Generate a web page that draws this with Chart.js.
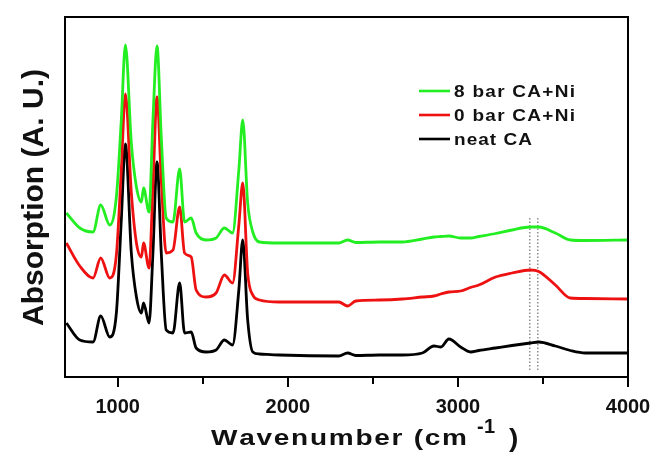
<!DOCTYPE html>
<html>
<head>
<meta charset="utf-8">
<script src="https://cdn.jsdelivr.net/npm/chart.js@4.4.1/dist/chart.umd.min.js"></script>
<style>
  html, body { margin: 0; padding: 0; background: #ffffff; }
  #wrap { width: 651px; height: 454px; position: relative; }
</style>
</head>
<body>
<div id="wrap"><canvas id="c" width="651" height="454"></canvas></div>
<script>
// ---- data ----
const wavenumber = [698, 777, 855, 900, 953, 992, 1021, 1045, 1080, 1110, 1139, 1152, 1184, 1207, 1231, 1256, 1285, 1325, 1364, 1393, 1432, 1461, 1520, 1578, 1627, 1675, 1712, 1735, 1764, 1794, 1833, 1950, 2300, 2351, 2400, 2537, 2673, 2791, 2859, 2900, 2947, 3016, 3074, 3123, 3221, 3318, 3426, 3475, 3573, 3661, 3749, 4000];
const neatCA = [54, 37, 35, 61, 40, 64, 157, 233, 124, 80, 64, 74, 54, 124, 215, 124, 47, 44, 94, 44, 45, 29, 25, 27, 37, 32, 87, 137, 57, 25, 23, 22, 21, 24, 21.5, 22, 22, 24, 31, 30, 38, 30, 25, 26.5, 29, 31.5, 34, 35, 31, 26.5, 24, 24];
const bar0CaNi = [134, 111, 99, 119, 99, 122, 207, 283, 184, 134, 120, 134, 109, 190, 280, 197, 124, 127, 170, 124, 120, 87, 80, 84, 102, 94, 152, 194, 104, 82, 77, 75, 75, 71, 76, 77, 78, 80, 81, 83, 85, 86, 89.5, 92, 100, 104, 107, 105.5, 92, 79, 78.5, 78];
const bar8CaNi = [164, 149, 145, 172, 152, 180, 257, 332, 234, 190, 175, 189, 165, 257, 331, 240, 159, 155, 208, 155, 159, 144, 137, 139, 149, 144, 207, 257, 174, 145, 135, 134, 134, 137, 134.5, 135, 135, 138, 140, 140.5, 141, 139, 139, 140.5, 143.5, 147, 150, 150, 144, 137, 136.5, 137];
const seriesLabels = ['8 bar CA+Ni', '0 bar CA+Ni', 'neat CA'];
const markerWn = [3423, 3470];
const markerSpan = [7, 160];
const xTickValues = [1000, 1500, 2000, 2500, 3000, 3500, 4000];
const xTickLabels = ['1000', '', '2000', '', '3000', '', '4000'];
const xRange = [690, 4000];
const yRange = [0, 360];

const toPoints = (ys) => wavenumber.map((x, i) => ({ x: x, y: ys[i] }));

function spacedWidth(ctx, text, sp) {
  let w = 0;
  for (const ch of text) w += ctx.measureText(ch).width + sp;
  return w - sp;
}
function drawSpaced(ctx, text, x, y, sp) {
  for (const ch of text) {
    ctx.fillText(ch, x, y);
    x += ctx.measureText(ch).width + sp;
  }
  return x - sp;
}
function fitSpacing(ctx, text, target) {
  const n = [...text].length;
  const w = spacedWidth(ctx, text, 0);
  return n > 1 ? (target - w) / (n - 1) : 0;
}
// draw text with its baseline-left at (x,y), squeezed vertically by k, fitted to width w
function drawSqueezed(ctx, text, x, y, font, k, w) {
  ctx.save();
  ctx.translate(x, y);
  ctx.scale(1, k);
  ctx.font = font;
  drawSpaced(ctx, text, 0, 0, fitSpacing(ctx, text, w));
  ctx.restore();
}

const FONT = '"Liberation Sans", Arial, sans-serif';

const decor = {
  id: 'decor',
  afterDatasetsDraw(chart) {
    const ctx = chart.ctx;
    const a = chart.chartArea;
    const xs = chart.scales.x;
    ctx.save();
    // frame
    ctx.strokeStyle = '#000';
    ctx.lineWidth = 2;
    ctx.strokeRect(a.left, a.top, a.right - a.left, a.bottom - a.top);
    // ticks on x axis
    xTickValues.forEach((v, i) => {
      const px = Math.round(xs.getPixelForValue(v));
      const len = xTickLabels[i] ? 10 : 7;
      ctx.beginPath();
      ctx.moveTo(px, a.bottom);
      ctx.lineTo(px, a.bottom + len);
      ctx.stroke();
    });
    // legend
    const legY = [91, 115, 139];
    const legTextW = [121, 121, 78];
    ctx.textBaseline = 'alphabetic';
    for (let i = 0; i < 3; i++) {
      const ds = chart.data.datasets[i];
      ctx.strokeStyle = ds.borderColor;
      ctx.lineWidth = 2.6;
      ctx.beginPath();
      ctx.moveTo(419, legY[i]);
      ctx.lineTo(450, legY[i]);
      ctx.stroke();
      ctx.fillStyle = '#111';
      drawSqueezed(ctx, ds.label, 454, legY[i] + 6, 'bold 19px ' + FONT, 0.86, legTextW[i]);
    }
    // x title
    ctx.fillStyle = '#111';
    drawSqueezed(ctx, 'Wavenumber (cm', 211, 445, 'bold 28px ' + FONT, 0.78, 256);
    ctx.font = 'bold 20px ' + FONT;
    drawSpaced(ctx, '-1', 477, 433, fitSpacing(ctx, '-1', 18));
    drawSqueezed(ctx, ')', 509, 447, 'bold 28px ' + FONT, 0.92, 10);
    // y title
    ctx.save();
    ctx.translate(43, 326);
    ctx.rotate(-Math.PI / 2);
    ctx.font = 'bold 30px ' + FONT;
    const yt = 'Absorption (A. U.)';
    drawSpaced(ctx, yt, 0, 0, fitSpacing(ctx, yt, 257));
    ctx.restore();
    ctx.restore();
  }
};

const lineStyle = (color) => ({
  borderColor: color, backgroundColor: color, borderWidth: 2.8,
  pointRadius: 0, fill: false, cubicInterpolationMode: 'monotone'
});

new Chart(document.getElementById('c'), {
  type: 'line',
  data: {
    datasets: [
      Object.assign({ label: seriesLabels[0], data: toPoints(bar8CaNi) }, lineStyle('#22ee22')),
      Object.assign({ label: seriesLabels[1], data: toPoints(bar0CaNi) }, lineStyle('#ee1111')),
      Object.assign({ label: seriesLabels[2], data: toPoints(neatCA) }, lineStyle('#000000')),
      { label: '', data: [{ x: markerWn[0], y: markerSpan[0] }, { x: markerWn[0], y: markerSpan[1] }],
        borderColor: '#555', borderWidth: 1, borderDash: [1.5, 2], pointRadius: 0 },
      { label: '', data: [{ x: markerWn[1], y: markerSpan[0] }, { x: markerWn[1], y: markerSpan[1] }],
        borderColor: '#555', borderWidth: 1, borderDash: [1.5, 2], pointRadius: 0 }
    ]
  },
  options: {
    responsive: false,
    animation: false,
    layout: { padding: { top: 17, right: 23, left: 0, bottom: 0 } },
    plugins: { legend: { display: false }, tooltip: { enabled: false } },
    scales: {
      x: {
        type: 'linear', min: xRange[0], max: xRange[1],
        grid: { display: false, drawTicks: false },
        border: { display: false },
        afterBuildTicks: (s) => { s.ticks = xTickValues.map(v => ({ value: v })); },
        afterFit: (s) => { s.height = 77; s.paddingLeft = 0; s.paddingRight = 0; },
        ticks: {
          autoSkip: false, maxRotation: 0, padding: 18,
          color: '#111',
          font: { family: FONT, size: 20, weight: 'bold' },
          callback: (v) => { const i = xTickValues.indexOf(v); return i >= 0 ? xTickLabels[i] : ''; }
        }
      },
      y: {
        type: 'linear', min: yRange[0], max: yRange[1],
        grid: { display: false, drawTicks: false },
        border: { display: false },
        ticks: { display: false },
        afterFit: (s) => { s.width = 65; s.paddingTop = 0; s.paddingBottom = 0; }
      }
    }
  },
  plugins: [decor]
});
</script>
</body>
</html>
